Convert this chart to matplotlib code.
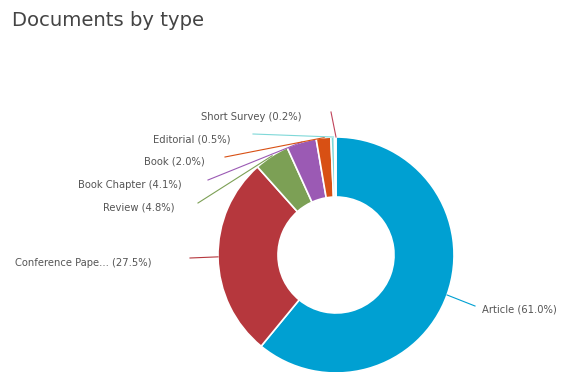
import numpy as np
import matplotlib.pyplot as plt

# Documents by type
labels = ["Article", "Conference Pape...", "Review", "Book Chapter", "Book", "Editorial", "Short Survey"]
shares = [61.0, 27.5, 4.8, 4.1, 2.0, 0.5, 0.2]
colors = ["#00a0d2", "#b6373d", "#7ca055", "#9b5ab4", "#d85014", "#7fd8d8", "#c0435a"]

# label text anchor (pixel coords, y down) and alignment
label_pos = [(482, 309, "left"), (152, 263, "right"), (175, 208, "right"), (182, 185, "right"),
             (205, 161, "right"), (231, 139, "right"), (302, 117, "right")]
line_end = [(475, 306), (190, 258), (198, 203), (208, 180), (225, 157), (253, 134), (331, 112)]

W, H = 561, 372
cx, cy, R, r_in = 336, 255, 118, 58

fig = plt.figure(figsize=(W / 100, H / 100), dpi=100)
ax = fig.add_axes([0, 0, 1, 1])

ax.pie(shares, colors=colors, startangle=90, counterclock=False,
       center=(cx, H - cy), radius=R,
       wedgeprops=dict(width=R - r_in, edgecolor="white", linewidth=1.2))

ax.set_xlim(0, W)
ax.set_ylim(0, H)
ax.set_aspect("equal")
ax.axis("off")

# leader lines + labels
start = 90.0
for lab, val, col, (tx, ty, ha), (lx, ly) in zip(labels, shares, colors, label_pos, line_end):
    mid = np.radians(start - val * 3.6 / 2)
    start -= val * 3.6
    px = cx + R * np.cos(mid)
    py = (H - cy) + R * np.sin(mid)
    ax.plot([px, lx], [py, H - ly], color=col, lw=0.8)
    ax.text(tx, H - ty, f"{lab} ({val:.1f}%)", ha=ha, va="center",
            fontsize=7.2, color="#555555")

fig.text(12 / W, 1 - 21 / H, "Documents by type", fontsize=14.1, color="#444444",
         ha="left", va="center")

fig.savefig("out.png", dpi=100)
